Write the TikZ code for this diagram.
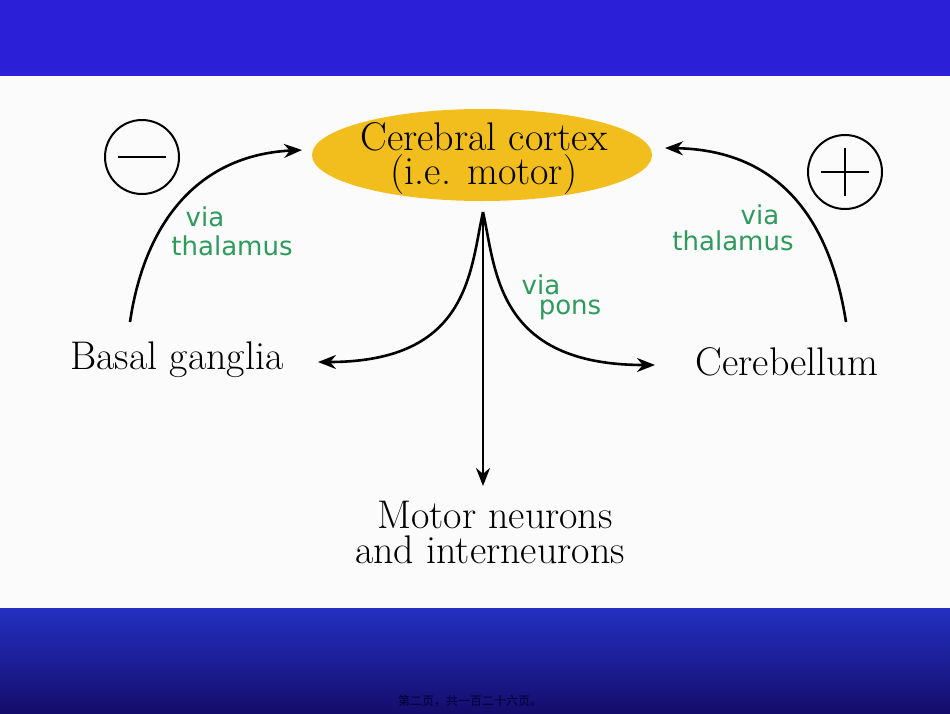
\documentclass[tikz,border=0pt]{standalone}
\usepackage{fontspec}
\newfontfamily\cjk{Noto Sans CJK SC}
\newfontfamily\viafont{DejaVu Sans}
\usetikzlibrary{arrows.meta,shapes.geometric}
\definecolor{topblue}{HTML}{2B1FD8}
\definecolor{botA}{HTML}{2430C2}
\definecolor{botB}{HTML}{150D6C}
\definecolor{gold}{HTML}{F2BE1E}
\definecolor{vgreen}{HTML}{2E9A5C}
\begin{document}
\begin{tikzpicture}[x=1pt,y=-1pt,
  big/.style={font=\fontsize{40}{42}\selectfont,inner sep=0},
  via/.style={font=\viafont\fontsize{26}{26}\selectfont,text=vgreen,inner sep=0},
  arr/.style={line width=2.6pt,-{Stealth[length=18pt,width=14pt]}},
  sign/.style={circle,draw,line width=2pt,minimum size=74pt,inner sep=0}]
\useasboundingbox (0,0) rectangle (950,713);
\fill[white!97!gray] (0,0) rectangle (950,713);
\fill[topblue] (0,0) rectangle (950,76);
\shade[top color=botA,bottom color=botB] (0,608) rectangle (950,713);
\node[ellipse,fill=gold,minimum width=340pt,minimum height=92pt] (cc) at (482,155) {};
\node[big] (c1) at (484,137) {Cerebral cortex};
\node[big] (c2) at (484,175) {(i.e. motor)};
\node[sign] (minus) at (142,157) {};
\draw[line width=2.5pt] (118,157) -- (166,157);
\node[sign] (plus) at (845,172) {};
\draw[line width=2.5pt] (821,172) -- (869,172) (845,148) -- (845,196);
\node[via] (v1) at (205,217) {via};
\node[via] (v2) at (232,246) {thalamus};
\node[via] (v3) at (760,215) {via};
\node[via] (v4) at (733,241) {thalamus};
\node[via] (v5) at (541,285) {via};
\node[via] (v6) at (570,310) {pons};
\node[big] (bg) at (177,360) {Basal ganglia};
\node[big] (cb) at (787,362) {Cerebellum};
\node[big] (mn) at (495,515) {Motor neurons};
\node[big] (in) at (490,550) {and interneurons};
\coordinate (peak) at (483,212);
\coordinate (bgs) at (130,322);
\coordinate (cbs) at (846,322);
\draw[arr] (bgs) .. controls (145,220) and (200,155) .. (302,150);
\draw[arr] (cbs) .. controls (830,220) and (780,150) .. (665,148);
\draw[arr] (peak) .. controls (470,270) and (470,362) .. (318,362);
\draw[arr] (peak) .. controls (496,270) and (496,365) .. (655,365);
\draw[arr] (peak) -- (483,486);
\node[font=\cjk\fontsize{12}{12}\selectfont,text=black!80!blue,inner sep=0] (ft) at (470,701) {第二页，共一百二十六页。};
\end{tikzpicture}
\end{document}
